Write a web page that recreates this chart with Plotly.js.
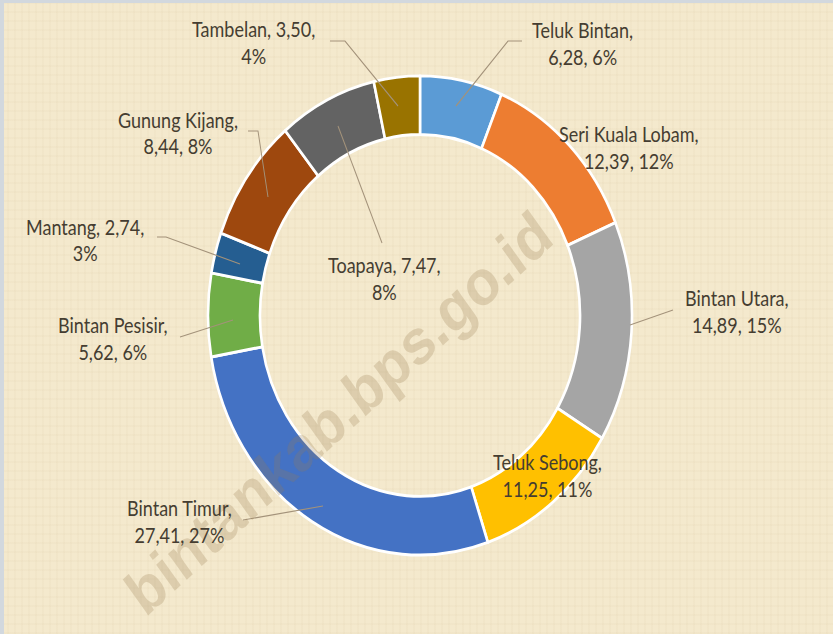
<!DOCTYPE html>
<html>
<head>
<meta charset="utf-8">
<script src="https://cdn.plot.ly/plotly-3.0.1.min.js"></script>
<style>
  html, body { margin: 0; padding: 0; }
  body { width: 833px; height: 634px; overflow: hidden; }
  #wrap {
    position: relative; width: 833px; height: 634px; overflow: hidden;
    background-color: #f4e9cd;
    background-image:
      repeating-linear-gradient(90deg, rgba(190,165,120,0.05) 0px, rgba(190,165,120,0.05) 2px, rgba(255,255,255,0) 2px, rgba(255,255,255,0) 7px),
      repeating-linear-gradient(0deg, rgba(190,165,120,0.05) 0px, rgba(190,165,120,0.05) 2px, rgba(255,255,255,0) 2px, rgba(255,255,255,0) 9px);
    box-shadow: inset 4px 3px 0 #d2d8de;
  }
  #chart { position: absolute; left: 0; top: 0; width: 833px; height: 561px;
    transform: scaleY(1.13012); transform-origin: 0 0; }
</style>
</head>
<body>
<div id="wrap"><div id="chart"></div></div>
<script>
// ---- data ----
const categories = ["Teluk Bintan", "Seri Kuala Lobam", "Bintan Utara", "Teluk Sebong", "Bintan Timur",
                    "Bintan Pesisir", "Mantang", "Gunung Kijang", "Toapaya", "Tambelan"];
const values = [6.28, 12.39, 14.89, 11.25, 27.41, 5.62, 2.74, 8.44, 7.47, 3.50];
const percentLabels = ["6%", "12%", "15%", "11%", "27%", "6%", "3%", "8%", "8%", "4%"];
const colors = ["#5b9bd5", "#ed7d31", "#a5a5a5", "#ffc000", "#4472c4",
                "#70ad47", "#255e91", "#9e480e", "#636363", "#997300"];

// ---- label layout (image pixel coordinates, final picture) ----
const W = 833, H = 634;
const px = x => x / W;
const py = y => 1 - y / H;
const labelPos = {
  "Teluk Bintan":     {x: 582, y: 43,  brk: "name"},
  "Seri Kuala Lobam": {x: 629, y: 147, brk: "name"},
  "Bintan Utara":     {x: 737, y: 311, brk: "name"},
  "Teluk Sebong":     {x: 547, y: 475, brk: "name"},
  "Bintan Timur":     {x: 179, y: 522, brk: "name"},
  "Bintan Pesisir":   {x: 113, y: 339, brk: "name"},
  "Mantang":          {x: 85,  y: 240, brk: "value"},
  "Gunung Kijang":    {x: 178, y: 133, brk: "name"},
  "Toapaya":          {x: 384, y: 279, brk: "value"},
  "Tambelan":         {x: 254, y: 42,  brk: "value"}
};
const leaders = {
  "Teluk Bintan":   [[522, 41], [508, 41], [456, 106]],
  "Bintan Utara":   [[673, 310], [630, 325]],
  "Bintan Timur":   [[243, 520], [323, 506]],
  "Bintan Pesisir": [[180, 337], [233, 320]],
  "Mantang":        [[157, 237], [166, 237], [240, 264]],
  "Gunung Kijang":  [[248, 131], [258, 131], [268, 197]],
  "Toapaya":        [[382, 243], [338, 126]],
  "Tambelan":       [[330, 41], [345, 41], [398, 106]]
};

const fmt = v => v.toFixed(2).replace(".", ",");
const font = {family: "Lato, 'Open Sans', sans-serif", size: 18, color: "#453d31"};

const annotations = categories.map((c, i) => {
  const p = labelPos[c];
  const txt = p.brk === "name"
    ? c + ",<br>" + fmt(values[i]) + ", " + percentLabels[i]
    : c + ", " + fmt(values[i]) + ",<br>" + percentLabels[i];
  return {xref: "paper", yref: "paper", x: px(p.x), y: py(p.y), xanchor: "center", yanchor: "middle",
          text: txt, showarrow: false, font: font, align: "center"};
});
annotations.unshift({
  xref: "paper", yref: "paper", x: px(338), y: py(413), xanchor: "center", yanchor: "middle",
  text: "bintankab.bps.go.id", showarrow: false, textangle: -39,
  font: {family: "'Liberation Sans', Arial, sans-serif", size: 56, color: "rgba(150,125,80,0.25)", weight: "bold"}
});

const shapes = Object.keys(leaders).map(k => {
  const pts = leaders[k];
  const d = pts.map((p, j) => (j ? "L" : "M") + px(p[0]).toFixed(5) + "," + py(p[1]).toFixed(5)).join(" ");
  return {type: "path", xref: "paper", yref: "paper", path: d, line: {color: "#a3927a", width: 1}, layer: "above"};
});

const trace = {
  type: "pie",
  labels: categories,
  values: values,
  sort: false,
  direction: "clockwise",
  rotation: 0,
  hole: 0.755,
  textinfo: "none",
  hoverinfo: "none",
  marker: {colors: colors, line: {color: "#ffffff", width: 2.6}},
  domain: {x: [0.2497, 0.7587], y: [0.1245, 0.8803]},
  showlegend: false
};

const layout = {
  width: 833, height: 561,
  margin: {l: 0, r: 0, t: 0, b: 0},
  paper_bgcolor: "rgba(0,0,0,0)",
  plot_bgcolor: "rgba(0,0,0,0)",
  showlegend: false,
  annotations: annotations,
  shapes: shapes
};

Plotly.newPlot("chart", [trace], layout, {displayModeBar: false, staticPlot: true});
</script>
</body>
</html>
